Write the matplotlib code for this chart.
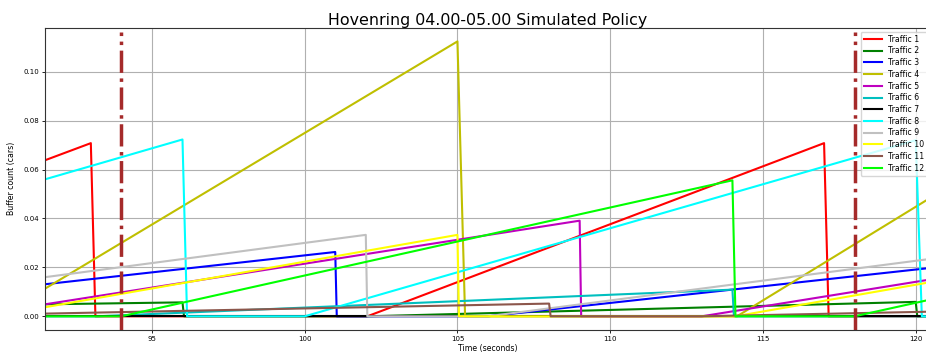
import numpy as np
import matplotlib
matplotlib.use('Agg')
import matplotlib.pyplot as plt

# breakpoints (time in s, buffer in cars)
t1 = [91.5, 93.0, 93.15, 102.05, 117.0, 117.15, 120.5]
v1 = [0.0638, 0.0708, 0.0, 0.0, 0.0708, 0.0, 0.0]
t2 = [91.5, 96.0, 96.05, 102.1, 120.0, 120.05, 120.5]
v2 = [0.0049, 0.0057, 0.0, 0.0, 0.0059, 0.0, 0.0]
t3 = [91.5, 101.0, 101.05, 106.0, 120.5]
v3 = [0.0131, 0.0263, 0.0, 0.0, 0.0198]
t4 = [91.5, 105.0, 105.25, 114.15, 120.5]
v4 = [0.0113, 0.1124, 0.0, 0.0, 0.0486]
t5 = [91.5, 109.0, 109.05, 113.0, 120.5]
v5 = [0.0049, 0.0391, 0.0, 0.0, 0.0151]
t6 = [91.5, 93.2, 114.0, 114.05, 120.5]
v6 = [0.0, 0.0, 0.0109, 0.0, 0.0]
t7 = [91.5, 120.5]
v7 = [0.0, 0.0]
t8 = [91.5, 96.0, 96.15, 100.0, 120.0, 120.2, 120.5]
v8 = [0.056, 0.0723, 0.0, 0.0, 0.0720, 0.0, 0.0]
t9 = [91.5, 102.0, 102.05, 106.0, 120.5]
v9 = [0.016, 0.0333, 0.0, 0.0, 0.0235]
t10 = [91.5, 105.0, 105.05, 114.1, 120.5]
v10 = [0.0037, 0.0333, 0.0, 0.0, 0.0140]
t11 = [91.5, 108.0, 108.05, 113.0, 120.5]
v11 = [0.0011, 0.0052, 0.0, 0.0, 0.0019]
t12 = [91.5, 94.0, 114.0, 114.1, 118.0, 120.5]
v12 = [0.0, 0.0, 0.0556, 0.0, 0.0, 0.0069]

times = [t1, t2, t3, t4, t5, t6, t7, t8, t9, t10, t11, t12]
values = [v1, v2, v3, v4, v5, v6, v7, v8, v9, v10, v11, v12]
colors = ['r', 'g', 'b', 'y', 'm', 'c', 'k', 'cyan', 'silver', 'yellow', '#8c564b', 'lime']
labels = ['Traffic %d' % (i + 1) for i in range(12)]

switch_times = [94.0, 118.0]

fig = plt.figure(figsize=(9.26, 3.58), dpi=100)
ax = fig.add_axes([45 / 926, 1 - 330 / 358, 886 / 926, 302.3 / 358])

for t, v, c, lab in zip(times, values, colors, labels):
    ax.plot(t, v, color=c, linewidth=1.5, label=lab)
for s in switch_times:
    ax.axvline(s, ymax=0.985, color='brown', linestyle='-.', linewidth=2.5)

ax.set_xlim(91.5, 120.5)
ax.set_ylim(-0.0056, 0.118)
ax.grid(True, color='#b0b0b0', linewidth=0.8)
ax.set_axisbelow(True)

ax.tick_params(labelsize=5, length=2.5, width=0.6, pad=2)
ax.set_xlabel('Time (seconds)', fontsize=5.6, labelpad=1)
ax.set_ylabel('Buffer count (cars)', fontsize=5.6, labelpad=5)
ax.set_title('Hovenring 04.00-05.00 Simulated Policy', fontsize=11.4, pad=2)
for sp in ax.spines.values():
    sp.set_linewidth(0.8)
    sp.set_color('#333333')

ax.legend(loc='upper right', fontsize=5.6, handlelength=2.3, labelspacing=0.35)

plt.savefig('out.png', dpi=100)
